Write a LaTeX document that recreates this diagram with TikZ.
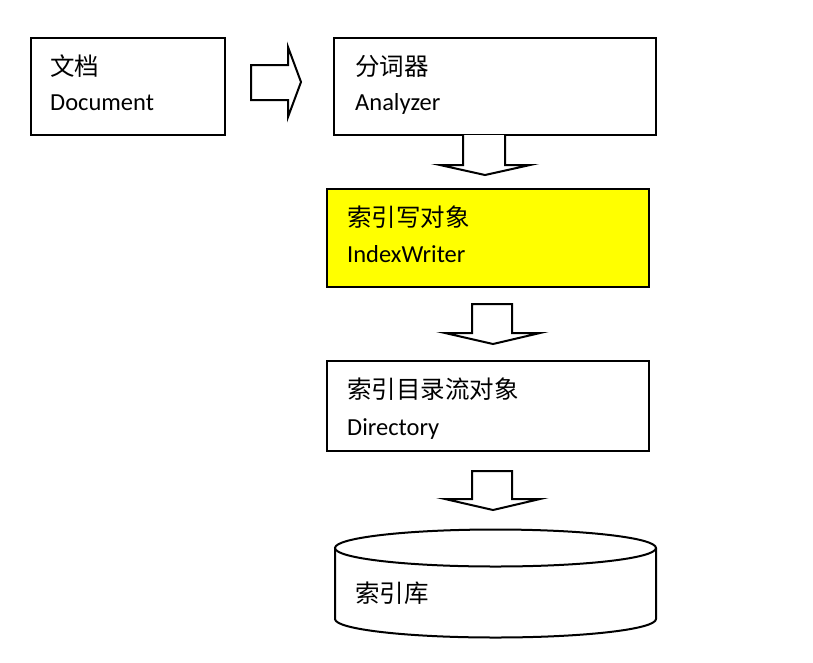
\documentclass[tikz,border=0pt]{standalone}
\usepackage{fontspec}
\setmainfont{Carlito}
\newfontfamily\cjk{Noto Sans CJK SC}
\begin{document}
\begin{tikzpicture}[x=1pt,y=-1pt,
  boxst/.style={draw=black,line width=2pt,inner sep=0pt},
  blockarrow/.style={draw=black,line width=2pt,fill=white,line join=miter},
  cntext/.style={anchor=base west,inner sep=0pt,font=\cjk\fontsize{24.5}{29}\selectfont},
  entext/.style={anchor=base west,inner sep=0pt,font=\fontsize{24.5}{29}\selectfont}]
\useasboundingbox[fill=white] (0,0) rectangle (813,662);
% boxes
\draw[boxst] (31,38) rectangle (225,135);
\draw[boxst] (334,38) rectangle (656,135);
\draw[boxst,fill={rgb,255:red,255;green,255;blue,0}] (327,189) rectangle (649,287);
\draw[boxst] (327,361) rectangle (649,451);
% texts
\node[cntext] (t1) at (50,75) {文档};
\node[entext] (e1) at (50,110) {Document};
\node[cntext] (t2) at (355,75) {分词器};
\node[entext] (e2) at (355,110) {Analyzer};
\node[cntext] (t3) at (347,226) {索引写对象};
\node[entext] (e3) at (347,262) {IndexWriter};
\node[cntext] (t4) at (347,398) {索引目录流对象};
\node[entext] (e4) at (347,435) {Directory};
% right arrow
\draw[blockarrow] (251,65) -- (288,65) -- (288,47) -- (301,82) -- (288,117) -- (288,100) -- (251,100) -- cycle;
% down arrows
\draw[blockarrow] (463,135) -- (463,165) -- (440,165) -- (485,175) -- (530,165) -- (505,165) -- (505,135);
\draw[blockarrow] (472,304) -- (512,304) -- (512,333) -- (540,333) -- (493,344) -- (445,333) -- (472,333) -- cycle;
\draw[blockarrow] (472,471) -- (512,471) -- (512,499) -- (540,499) -- (493,510) -- (445,499) -- (472,499) -- cycle;
% cylinder
\draw[line width=2pt,fill=white] (335,548) -- (335,619) arc[start angle=180,end angle=360,x radius=160.5pt,y radius=18.5pt] -- (656,548);
\draw[line width=2pt,fill=white] (495.5,548) ellipse [x radius=160.5pt,y radius=18.5pt];
\node[cntext] (t5) at (355,602) {索引库};
\end{tikzpicture}
\end{document}
